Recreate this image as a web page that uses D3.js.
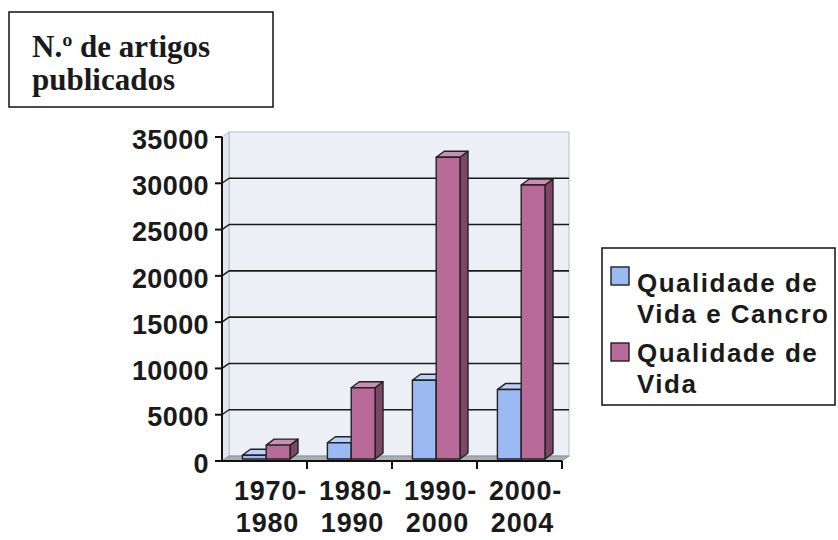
<!DOCTYPE html>
<html><head><meta charset="utf-8">
<script src="https://cdn.jsdelivr.net/npm/d3@7"></script>
<style>body{margin:0;background:#fff}svg{display:block}</style>
</head><body>
<svg id="c" width="838" height="540"></svg>
<script>
const categories = [["1970-","1980"],["1980-","1990"],["1990-","2000"],["2000-","2004"]];
const seriesNames = [["Qualidade de","Vida e Cancro"],["Qualidade de","Vida"]];
const seriesCQV = [400, 1750, 8500, 7500];
const seriesQV = [1500, 7700, 32600, 29600];
const yTicks = [0,5000,10000,15000,20000,25000,30000,35000];
const titleLines = ["N.º de artigos","publicados"];

const svg = d3.select("#c");
const sans = "'Liberation Sans', Arial, sans-serif";
const serif = "'Liberation Serif', 'Times New Roman', serif";

const x0 = 222, x1 = 562, yBase = 461, yTop = 137;
const wdx = 7, wdy = -5;      // wall depth
const bdx = 8, bdy = -6;      // bar depth
const y = d3.scaleLinear().domain([0,35000]).range([yBase, yTop]);
const x = d3.scaleBand().domain(d3.range(categories.length)).range([x0,x1]).padding(0);

// back wall
const g = svg.append("g");
g.append("rect").attr("x", x0+wdx).attr("y", y(35000)+wdy).attr("width", x1-x0).attr("height", yBase-y(35000))
  .attr("fill","#eceff6").attr("stroke","#b8bcc4").attr("stroke-width",1);
// left side wall
g.append("polygon").attr("points", [[x0,y(35000)],[x0+wdx,y(35000)+wdy],[x0+wdx,yBase+wdy],[x0,yBase]].join(" "))
  .attr("fill","#e2e6ee").attr("stroke","#b8bcc4").attr("stroke-width",1);
// gridlines
yTicks.filter(t=>t>0 && t<35000).forEach(t=>{
  g.append("line").attr("x1",x0+wdx).attr("x2",x1+wdx).attr("y1",y(t)+wdy).attr("y2",y(t)+wdy)
    .attr("stroke","#1a1a1a").attr("stroke-width",1.6);
  g.append("line").attr("x1",x0).attr("x2",x0+wdx).attr("y1",y(t)).attr("y2",y(t)+wdy)
    .attr("stroke","#1a1a1a").attr("stroke-width",1.4);
});
// floor
g.append("polygon").attr("points", [[x0,yBase],[x0+wdx,yBase+wdy],[x1+wdx,yBase+wdy],[x1,yBase]].join(" "))
  .attr("fill","#a8aeb2").attr("stroke","#8a9094").attr("stroke-width",1);

// bars
const colors = [
  {front:"#9bb9f2", top:"#bcd0f7", side:"#6d86c4"},
  {front:"#b86a98", top:"#cc8db2", side:"#7c4766"}
];
const bw = x.bandwidth();
const barW = bw*0.28, off = bw*0.24;
const base = yBase-2;
const yb = d3.scaleLinear().domain([0,35000]).range([base, base-(yBase-yTop)]);
const series = [seriesCQV, seriesQV];
categories.forEach((c,i)=>{
  series.forEach((s,j)=>{
    const bx = x(i)+off+j*barW, yt = yb(s[i]);
    const col = colors[j];
    const bg = g.append("g").attr("stroke","#222").attr("stroke-width",1.4).attr("stroke-linejoin","round");
    bg.append("polygon").attr("points",[[bx+barW,yt],[bx+barW+bdx,yt+bdy],[bx+barW+bdx,base+bdy],[bx+barW,base]].join(" ")).attr("fill",col.side);
    bg.append("polygon").attr("points",[[bx,yt],[bx+bdx,yt+bdy],[bx+barW+bdx,yt+bdy],[bx+barW,yt]].join(" ")).attr("fill",col.top);
    bg.append("rect").attr("x",bx).attr("y",yt).attr("width",barW).attr("height",base-yt).attr("fill",col.front);
  });
});

// axes
g.append("line").attr("x1",x0).attr("x2",x0).attr("y1",y(35000)).attr("y2",yBase+1).attr("stroke","#111").attr("stroke-width",2);
g.append("line").attr("x1",x0-1).attr("x2",x1).attr("y1",yBase).attr("y2",yBase).attr("stroke","#111").attr("stroke-width",2);
yTicks.forEach(t=>{
  g.append("line").attr("x1",x0-7).attr("x2",x0).attr("y1",y(t)).attr("y2",y(t)).attr("stroke","#111").attr("stroke-width",2);
  g.append("text").attr("x",x0-13).attr("y",y(t)+2).attr("dy","0.36em").attr("text-anchor","end")
    .attr("font-family",sans).attr("font-weight","bold").attr("font-size",27).attr("letter-spacing",0.4).attr("fill","#1a1a1a").text(t);
});
d3.range(categories.length+1).forEach(i=>{
  const tx = i<categories.length ? x(i) : x1;
  if(i>0) g.append("line").attr("x1",tx).attr("x2",tx).attr("y1",yBase).attr("y2",yBase+8).attr("stroke","#111").attr("stroke-width",2);
});
categories.forEach((c,i)=>{
  const cx = x(i)+bw/2+3;
  c.forEach((l,k)=>{
    g.append("text").attr("x", k===0? cx+3 : cx).attr("y",500+k*32).attr("text-anchor","middle")
      .attr("font-family",sans).attr("font-weight","bold").attr("font-size",27).attr("letter-spacing",0.8).attr("fill","#1a1a1a").text(l);
  });
});

// title box
svg.append("rect").attr("x",9).attr("y",12).attr("width",264).attr("height",95).attr("fill","#fff").attr("stroke","#111").attr("stroke-width",1.5);
titleLines.forEach((l,k)=>{
  svg.append("text").attr("x",32).attr("y",57+k*33).attr("font-family",serif).attr("font-weight","bold")
    .attr("font-size",31).attr("fill","#1a1a1a").text(l);
});

// legend
svg.append("rect").attr("x",602).attr("y",248).attr("width",233).attr("height",157).attr("fill","#fff").attr("stroke","#111").attr("stroke-width",1.5);
const legSwY = [267, 343];
const legTxtY = [292, 362];
seriesNames.forEach((nm,j)=>{
  svg.append("rect").attr("x",611).attr("y",legSwY[j]).attr("width",18).attr("height",18)
    .attr("fill",colors[j].front).attr("stroke","#222").attr("stroke-width",1.4);
  nm.forEach((l,k)=>{
    svg.append("text").attr("x",637).attr("y",legTxtY[j]+k*31).attr("font-family",sans).attr("font-weight","bold")
      .attr("font-size",26).attr("letter-spacing",1.5).attr("fill","#1a1a1a").text(l);
  });
});
</script>
</body></html>
